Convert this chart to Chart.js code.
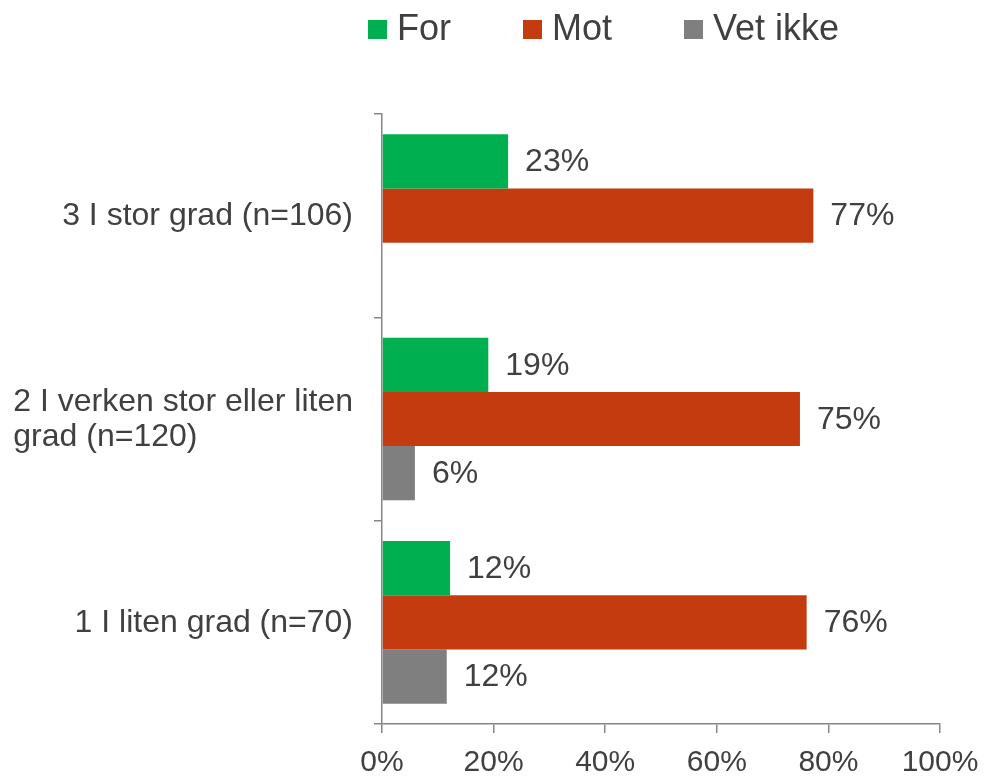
<!DOCTYPE html>
<html>
<head>
<meta charset="utf-8">
<script src="https://cdn.jsdelivr.net/npm/chart.js@4.4.1/dist/chart.umd.min.js"></script>
<style>
  html, body { margin: 0; padding: 0; background: #ffffff; }
  #wrap { width: 986px; height: 776px; position: relative; }
</style>
</head>
<body>
<div id="wrap"><canvas id="c"></canvas></div>
<script>
// ---- data ----
const categories = [
  ["3 I stor grad (n=106)"],
  ["2 I verken stor eller liten", "grad (n=120)"],
  ["1 I liten grad (n=70)"]
];
const seriesNames = ["For", "Mot", "Vet ikke"];
const forValues = [22.6, 19.05, 12.2];
const motValues = [77.3, 74.9, 76.1];
const vetIkkeValues = [null, 5.9, 11.6];
const xTickValues = [0, 20, 40, 60, 80, 100];

// ---- styles ----
const colors = ["#00B050", "#C33B0E", "#7F7F7F"];
const textColor = "#404040";
const axisColor = "#868686";
const fontFamily = "'Liberation Sans', Arial, sans-serif";

const legendPlugin = {
  id: 'customLegend',
  afterDraw(chart) {
    const ctx = chart.ctx;
    ctx.save();
    ctx.font = "36px " + fontFamily;
    ctx.textBaseline = 'middle';
    ctx.textAlign = 'left';
    let x = 368;
    const boxTop = 20, box = 19, cy = 30;
    chart.data.datasets.forEach((ds) => {
      ctx.fillStyle = ds.backgroundColor;
      ctx.fillRect(x, boxTop, box, box);
      ctx.fillStyle = textColor;
      ctx.fillText(ds.label, x + box + 10, cy);
      x += box + 10 + ctx.measureText(ds.label).width + 72;
    });
    ctx.restore();
  }
};

const yLabelPlugin = {
  id: 'yLabels',
  afterDraw(chart) {
    const scale = chart.scales.y;
    const ctx = chart.ctx;
    ctx.save();
    ctx.font = "32px " + fontFamily;
    ctx.textBaseline = 'middle';
    ctx.textAlign = 'left';
    ctx.fillStyle = textColor;
    const rightEdge = scale.right - 29;
    const lh = 35;
    chart.data.labels.forEach((lines, i) => {
      const cy = scale.getPixelForTick(i);
      const w = Math.max(...lines.map(l => ctx.measureText(l).width));
      const xl = rightEdge - w;
      lines.forEach((l, j) => {
        ctx.fillText(l, xl, cy + (j - (lines.length - 1) / 2) * lh + 1);
      });
    });
    ctx.restore();
  }
};

const valueLabelPlugin = {
  id: 'valueLabels',
  afterDatasetsDraw(chart) {
    const ctx = chart.ctx;
    ctx.save();
    ctx.font = "32px " + fontFamily;
    ctx.textBaseline = 'middle';
    ctx.textAlign = 'left';
    ctx.fillStyle = textColor;
    chart.data.datasets.forEach((ds, di) => {
      const meta = chart.getDatasetMeta(di);
      meta.data.forEach((el, i) => {
        const v = ds.data[i];
        if (v === null || v === undefined) return;
        ctx.fillText(Math.round(v) + "%", el.x + 17, el.y + 1);
      });
    });
    ctx.restore();
  }
};

new Chart(document.getElementById('c'), {
  type: 'bar',
  data: {
    labels: categories,
    datasets: [
      { label: seriesNames[0], data: forValues, backgroundColor: colors[0] },
      { label: seriesNames[1], data: motValues, backgroundColor: colors[1] },
      { label: seriesNames[2], data: vetIkkeValues, backgroundColor: colors[2] }
    ]
  },
  options: {
    indexAxis: 'y',
    responsive: true,
    maintainAspectRatio: false,
    animation: false,
    datasets: { bar: { categoryPercentage: 0.8, barPercentage: 1.0 } },
    layout: { padding: { top: 114, right: 46, bottom: 0, left: 0 } },
    plugins: { legend: { display: false }, tooltip: { enabled: false } },
    scales: {
      x: {
        min: 0, max: 100,
        afterBuildTicks(scale) { scale.ticks = xTickValues.map(v => ({ value: v })); },
        afterFit(scale) { scale.height = 52; scale.paddingRight = 0; scale.paddingLeft = 0; },
        border: { display: true, color: axisColor, width: 1.5 },
        grid: { drawOnChartArea: false, drawTicks: true, tickLength: 9, color: axisColor, lineWidth: 1.5 },
        ticks: {
          padding: 12,
          color: textColor,
          font: { family: fontFamily, size: 30 },
          maxRotation: 0,
          callback: (v) => v + '%'
        }
      },
      y: {
        afterFit(scale) { scale.width = 382; },
        border: { display: true, color: axisColor, width: 1.5 },
        grid: { drawOnChartArea: false, drawTicks: true, tickLength: 8, color: axisColor, lineWidth: 1.5, offset: true },
        ticks: { display: false }
      }
    }
  },
  plugins: [legendPlugin, yLabelPlugin, valueLabelPlugin]
});
</script>
</body>
</html>
